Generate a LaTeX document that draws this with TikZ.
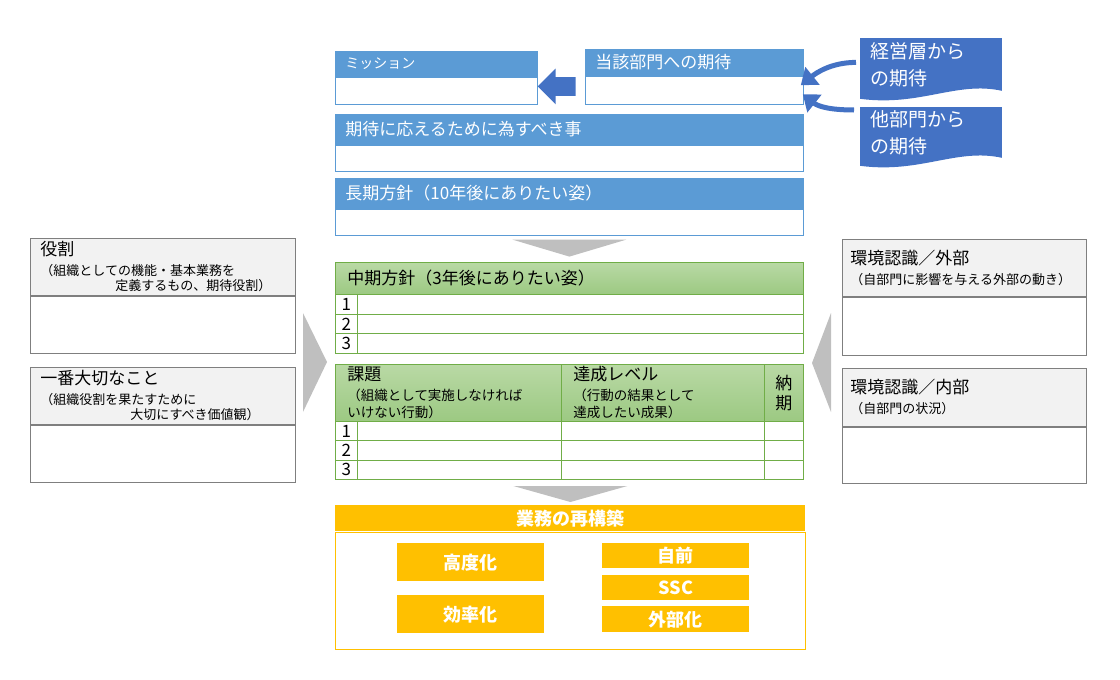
\documentclass[tikz,border=0pt]{standalone}
\usepackage{fontspec}
\setmainfont{Noto Sans CJK JP}
\usetikzlibrary{arrows.meta,shapes.arrows,calc,backgrounds}
\definecolor{headblue}{HTML}{5B9BD5}
\definecolor{docblue}{HTML}{4472C4}
\definecolor{boxgrey}{HTML}{7F7F7F}
\definecolor{headgrey}{HTML}{F2F2F2}
\definecolor{tablegreen}{HTML}{70AD47}
\definecolor{greentop}{HTML}{B9D9A5}
\definecolor{greenbot}{HTML}{9CC982}
\definecolor{gold}{HTML}{FFC000}
\definecolor{chevgrey}{HTML}{BFBFBF}
\newcommand{\hdsize}{\fontsize{17}{20}\selectfont}
\newcommand{\subsize}{\fontsize{13}{15}\selectfont}
\tikzstyle{bluehead}=[draw=headblue,fill=headblue,text=white,anchor=north west,inner xsep=10pt,inner ysep=0pt,align=left]
\tikzstyle{plainbody}=[draw,fill=white,anchor=north west,inner sep=0pt]
\tikzstyle{greyhead}=[draw=boxgrey,fill=headgrey,anchor=north west,inner xsep=10pt,inner ysep=0pt,align=left,font=\hdsize]
\tikzstyle{greenhead}=[draw=tablegreen,top color=greentop,bottom color=greenbot,anchor=north west,inner xsep=12pt,inner ysep=0pt,align=left,font=\hdsize]
\tikzstyle{greencell}=[draw=tablegreen,fill=white,anchor=north west,inner sep=0pt,font=\hdsize]
\tikzstyle{goldbox}=[fill=gold,text=white,anchor=north west,inner sep=0pt,font=\fontsize{18}{20}\selectfont\bfseries]
\tikzstyle{doc}=[anchor=north west,inner xsep=10pt,inner ysep=0pt,align=left,text=white,font=\fontsize{19}{27}\selectfont]
\tikzstyle{chevron}=[fill=chevgrey]
\tikzstyle{curvearrow}=[draw=docblue,line width=5pt,-{Triangle[length=15pt,width=22pt]}]

\begin{document}
\begin{tikzpicture}[x=1pt,y=-1pt,line width=0.8pt]
    \useasboundingbox (0,0) rectangle (1120,680);
    % Blue boxes at the top
    \foreach \name/\x/\y/\w/\hh/\bh/\fs/\txt [evaluate=\w as \tw using \w-20] in
        {mission/335/51/202/25/27/14/ミッション, expect/585/49/218/26/28/17/当該部門への期待,
         todo/335/114/468/30/26/17/期待に応えるために為すべき事, long/335/178/468/30/26/17/長期方針（10年後にありたい姿）}
    {
        \node[bluehead, minimum width=\w pt, minimum height=\hh pt, text width=\tw pt, font=\fontsize{\fs}{\fs}\selectfont] (\name-h) at (\x,\y) {\txt};
        \node[plainbody, draw=headblue, minimum width=\w pt, minimum height=\bh pt] (\name-b) at (\name-h.south west) {};
    }
    \node[single arrow, shape border rotate=180, fill=docblue, minimum height=38pt, inner xsep=0pt, inner ysep=9pt,
          single arrow head extend=8.5pt] (to-mission) at ($(mission-b.east)!0.5!(expect-b.west)+(0,-4)$) {};

    % Expectations from outside
    \node[doc, minimum width=141pt, minimum height=52pt, text width=121pt] (doc1) at (860,38) {経営層から\\の期待};
    \node[doc, minimum width=141pt, minimum height=50pt, text width=121pt] (doc2) at (860,107) {他部門から\\の期待};
    \begin{scope}[on background layer]
        \foreach \d in {doc1,doc2}
            \fill[docblue] (\d.north west) -- (\d.north east) -- (\d.south east)
                .. controls +(-45,-10) and +(60,8) .. ($(\d.south west)+(0,8)$) -- cycle;
    \end{scope}
    \draw[curvearrow] ($(doc1.west)+(-4,-2)$) .. controls +(-25,0) and +(15,-12) .. ($(expect-b.east)+(-3,-5)$);
    \draw[curvearrow] ($(doc2.north west)+(-6,3)$) .. controls +(-25,0) and +(15,12) .. ($(expect-b.east)+(-1,4)$);

    \fill[chevron] ($(long-b.south)+(-57,4)$) -- ($(long-b.south)+(57,4)$) -- ($(long-b.south)+(0,21)$) -- cycle;

    % Mid-term table
    \node[greenhead, minimum width=468pt, minimum height=32pt, text width=444pt] (mid-h) at (335,262) {中期方針（3年後にありたい姿）};
    \foreach \i/\y in {1/294, 2/313.7, 3/333.3}
    {
        \node[greencell, minimum width=22pt, minimum height=19.7pt] (mid-n\i) at (335,\y) {\i};
        \node[greencell, minimum width=446pt, minimum height=19.7pt] (mid-r\i) at (357,\y) {};
    }

    % Task table
    \node[greenhead, minimum width=226pt, minimum height=57pt, text width=202pt] (task-h) at (335,364)
        {課題\par\vspace{3pt}{\fontsize{13.5}{17}\selectfont （組織として実施しなければ\\いけない行動）\par}};
    \node[greenhead, minimum width=203pt, minimum height=57pt, text width=179pt] (level-h) at (561,364)
        {達成レベル\par\vspace{3pt}{\fontsize{13.5}{17}\selectfont （行動の結果として\\達成したい成果）\par}};
    \node[greenhead, minimum width=39pt, minimum height=57pt, inner xsep=0pt, text width=39pt, align=center] (due-h) at (764,364) {納\\期};
    \foreach \i/\y in {1/421, 2/440.3, 3/459.7}
    {
        \node[greencell, minimum width=22pt, minimum height=19.3pt] (task-n\i) at (335,\y) {\i};
        \node[greencell, minimum width=204pt, minimum height=19.3pt] (task-r\i) at (357,\y) {};
        \node[greencell, minimum width=203pt, minimum height=19.3pt] (level-r\i) at (561,\y) {};
        \node[greencell, minimum width=39pt, minimum height=19.3pt] (due-r\i) at (764,\y) {};
    }

    % Rebuilding the work
    \node[goldbox, minimum width=470pt, minimum height=26pt] (rebuild-h) at (335,505) {業務の再構築};
    \node[plainbody, draw=gold, line width=1pt, minimum width=470pt, minimum height=117pt] (rebuild-b) at (rebuild-h.south west) {};
    \foreach \name/\x/\y/\h/\txt in {adv/397/543/38/高度化, eff/397/595/38/効率化,
                                     own/602/543/25/自前, ssc/602/575/25/SSC, outs/602/606/26/外部化}
        \node[goldbox, minimum width=147pt, minimum height=\h pt] (\name) at (\x,\y) {\txt};
    \fill[chevron] ($(rebuild-h.north)+(-57,-19)$) -- ($(rebuild-h.north)+(57,-19)$) -- ($(rebuild-h.north)+(0,-3)$) -- cycle;

    % Left boxes
    \node[greyhead, minimum width=265pt, minimum height=57pt, text width=245pt] (role-h) at (30,238)
        {役割\par\vspace{5pt}{\subsize （組織としての機能・基本業務を\\\hspace*{75pt}定義するもの、期待役割）\par}};
    \node[plainbody, draw=boxgrey, minimum width=265pt, minimum height=57pt] (role-b) at (role-h.south west) {};
    \node[greyhead, minimum width=265pt, minimum height=57pt, text width=245pt] (value-h) at (30,367)
        {一番大切なこと\par\vspace{5pt}{\subsize （組織役割を果たすために\\\hspace*{90pt}大切にすべき価値観）\par}};
    \node[plainbody, draw=boxgrey, minimum width=265pt, minimum height=57pt] (value-b) at (value-h.south west) {};
    \fill[chevron] (303,313) -- (327,362) -- (303,412) -- cycle;

    % Right boxes
    \node[greyhead, inner xsep=8pt, minimum width=244pt, minimum height=57pt, text width=228pt] (envout-h) at (842,239)
        {環境認識／外部\par\vspace{5pt}{\subsize （自部門に影響を与える外部の動き）\par}};
    \node[plainbody, draw=boxgrey, minimum width=244pt, minimum height=58pt] (envout-b) at (envout-h.south west) {};
    \node[greyhead, inner xsep=8pt, minimum width=244pt, minimum height=58pt, text width=228pt] (envin-h) at (842,368)
        {環境認識／内部\par\vspace{5pt}{\subsize （自部門の状況）\par}};
    \node[plainbody, draw=boxgrey, minimum width=244pt, minimum height=56pt] (envin-b) at (envin-h.south west) {};
    \fill[chevron] (831,313) -- (812,363) -- (831,412) -- cycle;
\end{tikzpicture}
\end{document}
